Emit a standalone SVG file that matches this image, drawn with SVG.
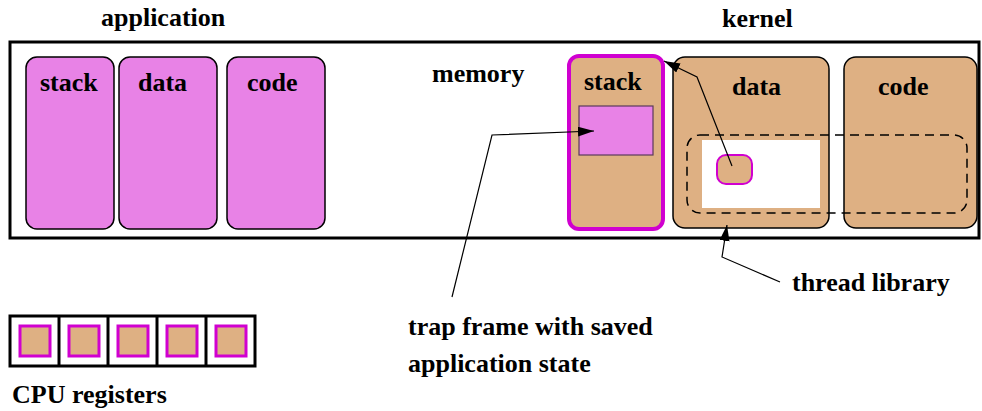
<svg xmlns="http://www.w3.org/2000/svg" width="982" height="411" viewBox="0 0 982 411">
<defs>
<style>
.t{font-family:"Liberation Serif","Times New Roman",serif;font-weight:bold;font-size:26px;fill:#000}
.app{fill:#e882e6;stroke:#000;stroke-width:1.5}
.ker{fill:#deb083;stroke:#000;stroke-width:1.5}
.conn{fill:none;stroke:#000;stroke-width:1.2}
</style>
<marker id="ah" markerUnits="userSpaceOnUse" markerWidth="18" markerHeight="12" refX="16" refY="5" orient="auto">
<path d="M0,0 L16,5 L0,10 z" fill="#000"/>
</marker>
</defs>
<rect width="982" height="411" fill="#fff"/>
<g id="memory">
<rect x="10" y="42" width="969" height="196" fill="none" stroke="#000" stroke-width="3"/>
<text class="t" x="432" y="82">memory</text>
</g>
<text class="t" x="101" y="26">application</text>
<text class="t" x="722" y="27">kernel</text>
<g id="app-stack"><rect class="app" x="26" y="57" width="88" height="172" rx="11"/><text class="t" x="40" y="91">stack</text></g>
<g id="app-data"><rect class="app" x="119" y="57" width="98" height="172" rx="11"/><text class="t" x="138" y="91">data</text></g>
<g id="app-code"><rect class="app" x="227" y="57" width="98" height="172" rx="11"/><text class="t" x="247" y="91">code</text></g>
<g id="kernel-stack">
<rect x="569" y="56" width="94" height="173" rx="10" fill="#deb083" stroke="#d000d0" stroke-width="4"/>
<text class="t" x="584" y="90">stack</text>
<rect x="579" y="106" width="74" height="49" fill="#e882e6" stroke="#5a3a5a" stroke-width="1.2"/>
</g>
<g id="kernel-data"><rect class="ker" x="673" y="57" width="156" height="171" rx="12"/><text class="t" x="732" y="95">data</text></g>
<g id="kernel-code"><rect class="ker" x="844" y="57" width="133" height="171" rx="12"/><text class="t" x="878" y="95">code</text></g>
<g id="thread-library">
<rect x="687" y="135" width="280" height="78" rx="13" fill="none" stroke="#000" stroke-width="1.5" stroke-dasharray="9,6"/>
<rect x="702" y="140" width="118" height="68" fill="#fff"/>
<rect x="717" y="155" width="35" height="29" rx="9" fill="#deb083" stroke="#d000d0" stroke-width="2"/>
<text class="t" x="792" y="291">thread library</text>
</g>
<g id="trap-label">
<text class="t" x="408" y="335">trap frame with saved</text>
<text class="t" x="408" y="372">application state</text>
</g>
<g id="cpu-registers">
<rect x="10" y="316" width="245" height="50" fill="#fff" stroke="#000" stroke-width="3"/>
<line x1="59" y1="316" x2="59" y2="366" stroke="#000" stroke-width="3"/>
<line x1="108" y1="316" x2="108" y2="366" stroke="#000" stroke-width="3"/>
<line x1="157" y1="316" x2="157" y2="366" stroke="#000" stroke-width="3"/>
<line x1="206" y1="316" x2="206" y2="366" stroke="#000" stroke-width="3"/>
<rect x="20" y="326" width="30" height="30" fill="#deb083" stroke="#d000d0" stroke-width="3"/>
<rect x="69" y="326" width="30" height="30" fill="#deb083" stroke="#d000d0" stroke-width="3"/>
<rect x="118" y="326" width="30" height="30" fill="#deb083" stroke="#d000d0" stroke-width="3"/>
<rect x="167" y="326" width="30" height="30" fill="#deb083" stroke="#d000d0" stroke-width="3"/>
<rect x="216" y="326" width="30" height="30" fill="#deb083" stroke="#d000d0" stroke-width="3"/>
<text class="t" x="12" y="403">CPU registers</text>
</g>
<g id="connectors">
<path class="conn" d="M452,297 L492,135 L594,131" marker-end="url(#ah)"/>
<path class="conn" d="M732,166 L697,77 L664,61" marker-end="url(#ah)"/>
<path class="conn" d="M780,282 L722,257 L727,225" marker-end="url(#ah)"/>
</g>
</svg>
